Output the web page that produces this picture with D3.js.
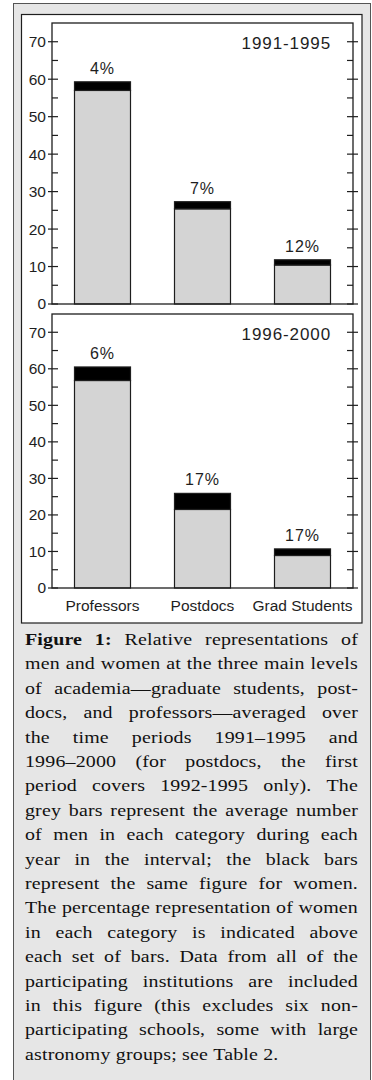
<!DOCTYPE html>
<html>
<head>
<meta charset="utf-8">
<script src="https://cdn.jsdelivr.net/npm/d3@7"></script>
<style>
  html, body { margin: 0; padding: 0; background: #ffffff; }
  svg { display: block; }
</style>
</head>
<body>
<svg id="fig" width="372" height="1080"></svg>
<script>
// Categories and per-period averages (people per year)
const categories = ["Professors", "Postdocs", "Grad Students"];
const periods = ["1991-1995", "1996-2000"];
const men1991 = [57.0, 25.4, 10.4];
const women1991 = [2.3, 1.9, 1.4];
const men1996 = [56.8, 21.5, 8.9];
const women1996 = [3.7, 4.4, 1.8];
const pctLabels1991 = ["4%", "7%", "12%"];
const pctLabels1996 = ["6%", "17%", "17%"];
const yMajorTicks = [0, 10, 20, 30, 40, 50, 60, 70];
const yMinorTicks = [5, 15, 25, 35, 45, 55, 65];

const captionLines = [
  [{ t: "Figure 1:", b: true }, { t: " Relative representations of" }],
  [{ t: "men and women at the three main levels" }],
  [{ t: "of academia\u2014graduate students, post-" }],
  [{ t: "docs, and professors\u2014averaged over" }],
  [{ t: "the time periods 1991\u20131995 and" }],
  [{ t: "1996\u20132000 (for postdocs, the first" }],
  [{ t: "period covers 1992-1995 only). The" }],
  [{ t: "grey bars represent the average number" }],
  [{ t: "of men in each category during each" }],
  [{ t: "year in the interval; the black bars" }],
  [{ t: "represent the same figure for women." }],
  [{ t: "The percentage representation of women" }],
  [{ t: "in each category is indicated above" }],
  [{ t: "each set of bars. Data from all of the" }],
  [{ t: "participating institutions are included" }],
  [{ t: "in this figure (this excludes six non-" }],
  [{ t: "participating schools, some with large" }],
  [{ t: "astronomy groups; see Table 2." }]
];

const panels = [
  { period: periods[0], men: men1991, women: women1991, labels: pctLabels1991, top: 23, bottom: 304 },
  { period: periods[1], men: men1996, women: women1996, labels: pctLabels1996, top: 314, bottom: 588 }
];

const svg = d3.select("#fig");
const sans = "'Liberation Sans', Arial, Helvetica, sans-serif";
const serif = "'Liberation Serif', 'Times New Roman', serif";
const ink = "#1e1e1e";

// Page frame: grey caption box and white figure box
svg.append("rect")
  .attr("x", 13.5).attr("y", 3.5).attr("width", 357).attr("height", 1100)
  .attr("fill", "#e6e6e6").attr("stroke", "#555").attr("stroke-width", 1);
svg.append("rect")
  .attr("x", 21.5).attr("y", 14.5).attr("width", 340.5).attr("height", 608.5)
  .attr("fill", "#ffffff").attr("stroke", ink).attr("stroke-width", 1.2);

const plotLeft = 52, plotRight = 353;
const x = d3.scaleBand().domain(categories).range([plotLeft, plotRight])
  .paddingInner(0.44).paddingOuter(0.225);

panels.forEach(p => {
  const y = d3.scaleLinear().domain([0, 75]).range([p.bottom, p.top]);
  const g = svg.append("g");

  // Bars: men (grey) at the base, women (black) stacked on top
  categories.forEach((c, i) => {
    const m = p.men[i], w = p.women[i];
    g.append("rect")
      .attr("x", x(c)).attr("width", x.bandwidth())
      .attr("y", y(m)).attr("height", y(0) - y(m))
      .attr("fill", "#d4d4d4").attr("stroke", ink).attr("stroke-width", 1.2);
    g.append("rect")
      .attr("x", x(c)).attr("width", x.bandwidth())
      .attr("y", y(m + w)).attr("height", y(m) - y(m + w))
      .attr("fill", "#000").attr("stroke", ink).attr("stroke-width", 1.2);
    g.append("text")
      .attr("x", x(c) + x.bandwidth() / 2).attr("y", y(m + w) - 8)
      .attr("text-anchor", "middle")
      .attr("font-family", sans).attr("font-size", 16).attr("letter-spacing", 1)
      .attr("fill", ink).text(p.labels[i]);
  });

  // Left axis: major ticks cross the frame, minor ticks point inward
  const left = g.append("g").attr("transform", `translate(${plotLeft},0)`)
    .call(d3.axisLeft(y).tickValues(yMajorTicks).tickSize(0).tickPadding(6));
  left.select(".domain").remove();
  left.selectAll("text").attr("font-family", sans).attr("font-size", 15.5).attr("fill", ink);
  g.selectAll(null).data(yMajorTicks).join("line")
    .attr("x1", plotLeft - 4).attr("x2", plotLeft + 6)
    .attr("y1", d => y(d)).attr("y2", d => y(d))
    .attr("stroke", ink).attr("stroke-width", 1.2);
  g.selectAll(null).data(yMinorTicks).join("line")
    .attr("x1", plotLeft).attr("x2", plotLeft + 6)
    .attr("y1", d => y(d)).attr("y2", d => y(d))
    .attr("stroke", ink).attr("stroke-width", 1.2);

  // Right axis mirrors the left one
  g.selectAll(null).data(yMajorTicks).join("line")
    .attr("x1", plotRight - 6).attr("x2", plotRight + 5)
    .attr("y1", d => y(d)).attr("y2", d => y(d))
    .attr("stroke", ink).attr("stroke-width", 1.2);
  g.selectAll(null).data(yMinorTicks).join("line")
    .attr("x1", plotRight - 6).attr("x2", plotRight)
    .attr("y1", d => y(d)).attr("y2", d => y(d))
    .attr("stroke", ink).attr("stroke-width", 1.2);

  // Plot frame
  g.append("rect")
    .attr("x", plotLeft).attr("y", p.top)
    .attr("width", plotRight - plotLeft).attr("height", p.bottom - p.top)
    .attr("fill", "none").attr("stroke", ink).attr("stroke-width", 1.3);

  // Period title
  g.append("text")
    .attr("x", 331).attr("y", p.top + 25.5)
    .attr("text-anchor", "end")
    .attr("font-family", sans).attr("font-size", 17).attr("letter-spacing", 0.9)
    .attr("fill", ink).text(p.period);
});

// Category labels under the lower panel
svg.append("g").selectAll("text").data(categories).join("text")
  .attr("x", d => x(d) + x.bandwidth() / 2).attr("y", 610.5)
  .attr("text-anchor", "middle")
  .attr("font-family", sans).attr("font-size", 15.5)
  .attr("fill", ink).text(d => d);

// Justified caption: words placed individually across the text width,
// set slightly wide so the line lengths read like an old-style book face
const capLeft = 25, capRight = 358, capTop = 645, capStep = 24.4;
const capSize = 17.5, capLetter = 0.15, capStretch = 1.14;
const cap = svg.append("g")
  .attr("transform", `scale(${capStretch},1)`)
  .attr("font-family", serif).attr("font-size", capSize)
  .attr("fill", "#111");

function measure(word, bold) {
  const t = cap.append("text").attr("letter-spacing", capLetter)
    .attr("font-weight", bold ? "bold" : null).text(word);
  const w = t.node().getComputedTextLength();
  t.remove();
  return w * capStretch;
}

const spaceW = measure("a a", false) - measure("aa", false);
captionLines.forEach((parts, li) => {
  const words = [];
  parts.forEach(part => {
    part.t.split(" ").filter(s => s.length).forEach(s => words.push({ s, b: !!part.b }));
  });
  const widths = words.map(w => measure(w.s, w.b));
  const total = d3.sum(widths);
  const last = li === captionLines.length - 1;
  const gap = last ? spaceW : (capRight - capLeft - total) / (words.length - 1);
  let cx = capLeft;
  words.forEach((w, wi) => {
    cap.append("text")
      .attr("x", cx / capStretch).attr("y", capTop + li * capStep)
      .attr("letter-spacing", capLetter)
      .attr("font-weight", w.b ? "bold" : null)
      .text(w.s);
    cx += widths[wi] + gap;
  });
});
</script>
</body>
</html>
